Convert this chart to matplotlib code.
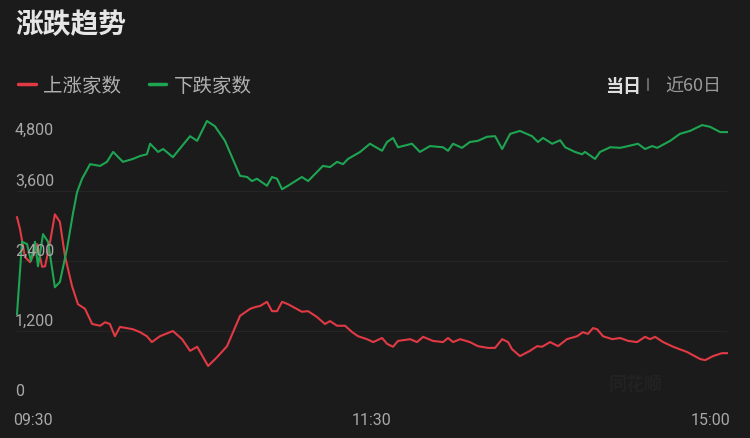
import matplotlib
matplotlib.use("Agg")
import matplotlib.pyplot as plt
from matplotlib.lines import Line2D

plt.rcParams['font.family'] = ['Roboto', 'Noto Sans CJK SC', 'DejaVu Sans']

# data (minutes since 09:30, trading minutes only)
up_minutes = [0, 1, 2.7, 4.4, 5.7, 6.8, 8.5, 9.5, 11.2, 12.8, 14.5, 16.2, 18.6, 20.6,
              23, 25.4, 28.1, 29.8, 31.4, 33.1, 34.8, 39.2, 41.6, 43.9, 45.6, 48.3,
              52.7, 55.8, 58.5, 60.9, 64.6, 67.6, 71, 75.4, 78.8, 80.5, 82.2, 84.5,
              86.2, 87.9, 89.6, 91.6, 96.3, 98.4, 101.4, 104.1, 105.8, 108.2, 110.9,
              113.3, 115.3, 118.3, 120.4, 123.4, 125.1, 127.1, 128.8, 132.9, 135.2,
              137.3, 140.6, 144, 145.7, 147.4, 149.8, 153.1, 155.8, 159.2, 161.6, 164,
              166, 167.3, 170, 173.4, 175.8, 177.5, 180.2, 182.9, 185.9, 189.3, 191.3,
              193, 194.7, 196.1, 198.1, 201.2, 203.9, 206.6, 209.6, 212.3, 214, 215.7,
              218.4, 221.8, 226.5, 230.9, 232.6, 235.3, 238.3, 240]
up_values = [3150, 2950, 2470, 2380, 2520, 2690, 2300, 2310, 2730, 3200, 3070, 2490,
             1970, 1660, 1580, 1320, 1290, 1350, 1320, 1110, 1270, 1230, 1180, 1110,
             1010, 1110, 1200, 1060, 860, 930, 600, 750, 940, 1460, 1580, 1610, 1630,
             1700, 1540, 1540, 1700, 1660, 1530, 1540, 1440, 1320, 1370, 1290, 1290,
             1180, 1110, 1060, 1010, 1080, 980, 930, 1030, 1060, 1010, 1100, 1030, 1010,
             1080, 1010, 1060, 1010, 940, 910, 910, 1060, 1010, 890, 770, 860, 940, 930,
             1010, 940, 1060, 1110, 1180, 1150, 1250, 1230, 1110, 1060, 1080, 1030,
             1010, 1100, 1060, 1100, 1010, 930, 840, 720, 700, 770, 820, 820]

down_minutes = [0, 1.7, 3.4, 4.7, 6.1, 7.1, 8.8, 10.5, 12.8, 14.5, 16.9, 18.9, 20.3,
                22, 24.7, 28.1, 30.4, 32.5, 35.8, 39.2, 41.6, 43.9, 45, 47.7, 49.4,
                52.7, 58.5, 60.9, 64.2, 66.9, 70.3, 75.4, 77.8, 79.4, 81.1, 84.5, 86.2,
                87.9, 89.6, 91.6, 96.3, 98.4, 103.4, 105.8, 108.2, 110.2, 111.9, 116,
                119.3, 123.4, 125.1, 127.1, 128.8, 133.5, 136.2, 139.6, 144, 145.7,
                147.4, 150.4, 153.1, 155.8, 158.9, 161.6, 164, 166.7, 170, 174.1, 176.1,
                177.8, 180.9, 183.6, 185.3, 188.6, 191, 192, 195.4, 197.1, 200.5, 203.9,
                206.6, 209.9, 212.3, 214.7, 216.4, 220.8, 224.1, 227.5, 231.6, 234.3,
                237.7, 240]
down_values = [1490, 2730, 2690, 2400, 2730, 2310, 2860, 2730, 1950, 2040, 2610, 3210,
               3580, 3810, 4060, 4030, 4100, 4270, 4100, 4150, 4200, 4230, 4410, 4270,
               4320, 4180, 4540, 4460, 4800, 4710, 4460, 3860, 3840, 3770, 3810, 3690,
               3840, 3810, 3630, 3690, 3840, 3770, 4030, 4010, 4100, 4060, 4150, 4270,
               4410, 4290, 4440, 4510, 4350, 4410, 4270, 4370, 4350, 4290, 4410, 4340,
               4440, 4460, 4530, 4540, 4320, 4580, 4630, 4540, 4440, 4510, 4410, 4470,
               4350, 4270, 4230, 4270, 4150, 4270, 4350, 4340, 4370, 4410, 4320, 4370,
               4340, 4460, 4580, 4630, 4730, 4700, 4610, 4610]

y_ticks = [0, 1200, 2400, 3600, 4800]
y_labels = ['0', '1,200', '2,400', '3,600', '4,800']
x_ticks = [0, 120, 240]
x_labels = ['09:30', '11:30', '15:00']

BG = '#1b1b1b'
RED = '#e23a45'
GREEN = '#1ea552'
W, H = 750, 439

fig = plt.figure(figsize=(W / 100, H / 100), dpi=100, facecolor=BG)


def px(x, y):
    return x / W, 1 - y / H


ax = fig.add_axes([17 / W, 1 - 402 / H, 710 / W, 280 / H], facecolor=BG)
ax.set_xlim(0, 240)
ax.set_ylim(0, 4800)
for s in ax.spines.values():
    s.set_visible(False)
ax.set_xticks([])
ax.set_yticks([])

for v in y_ticks[1:4]:
    ax.axhline(v, color='#252525', lw=0.8, zorder=0)

ax.plot(up_minutes, up_values, color=RED, lw=1.5, clip_on=False, zorder=3,
        solid_joinstyle='round')
ax.plot(down_minutes, down_values, color=GREEN, lw=1.5, clip_on=False, zorder=3,
        solid_joinstyle='round')

# y tick labels sit above their grid line (top one below)
for v, lab in zip(y_ticks, y_labels):
    dy = -6 if v == y_ticks[-1] else 7.5
    ax.annotate(lab, xy=(15, v), xycoords=('figure pixels', 'data'),
                xytext=(0, dy), textcoords='offset points',
                ha='left', va='center', fontsize=11.5, color='#a8a8a8')

# x tick labels
aligns = ['left', 'center', 'right']
dxs = [-2.5, 0, 2.5]
for v, lab, ha, dx in zip(x_ticks, x_labels, aligns, dxs):
    ax.annotate(lab, xy=(v, 0), xycoords=('data', 'axes fraction'),
                xytext=(dx, -13), textcoords='offset points',
                ha=ha, va='center', fontsize=11.5, color='#a8a8a8')

# title
fig.text(*px(15, 25), '涨跌趋势', fontsize=20, fontweight='bold',
         color='#e6e6e6', ha='left', va='center', family='Noto Sans CJK SC')

# legend
fig.add_artist(Line2D([18 / W, 36 / W], [1 - 85 / H] * 2, color=RED, lw=2.5,
                      solid_capstyle='round', transform=fig.transFigure))
fig.text(*px(43, 86), '上涨家数', fontsize=14, color='#b0b0b0',
         ha='left', va='center', family='Noto Sans CJK SC')
fig.add_artist(Line2D([149 / W, 166 / W], [1 - 85 / H] * 2, color=GREEN, lw=2.5,
                      solid_capstyle='round', transform=fig.transFigure))
fig.text(*px(174, 86), '下跌家数', fontsize=14, color='#b0b0b0',
         ha='left', va='center', family='Noto Sans CJK SC')

# period switch
fig.text(*px(605, 86), '当日', fontsize=13, fontweight='bold', color='#e0e0e0',
         ha='left', va='center', family='Noto Sans CJK SC')
fig.add_artist(Line2D([648 / W, 648 / W], [1 - 80 / H, 1 - 91 / H], color='#777777',
                      lw=1.2, transform=fig.transFigure))
fig.text(*px(665, 86), '近60日', fontsize=13, color='#9a9a9a',
         ha='left', va='center', family=['Noto Sans CJK SC', 'DejaVu Sans'])

# faint watermark
fig.text(*px(636, 384), '同花顺', fontsize=13, fontweight='bold', color='#222222',
         ha='center', va='center', family='Noto Sans CJK SC')

fig.savefig('out.png', dpi=100, facecolor=BG)
